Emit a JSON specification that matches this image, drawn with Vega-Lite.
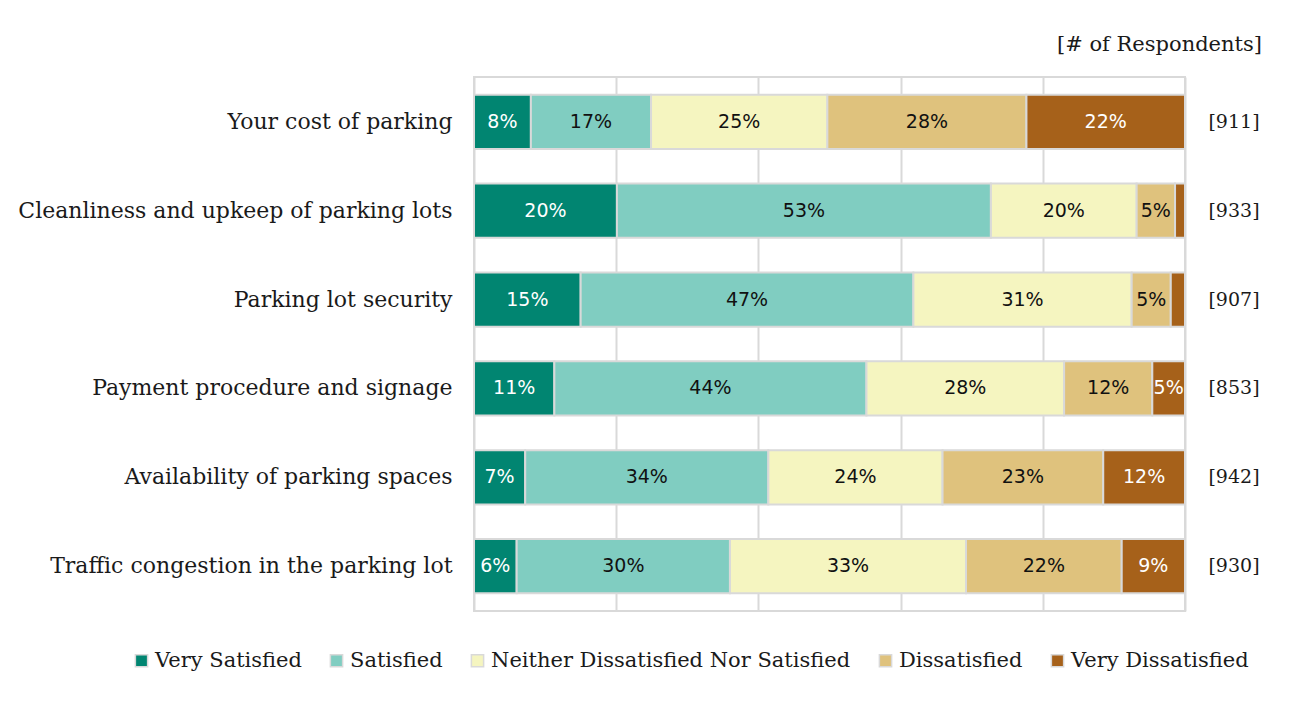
{
  "$schema": "https://vega.github.io/schema/vega-lite/v6.json",
  "width": 711,
  "height": 534,
  "autosize": {"type": "none"},
  "padding": {"left": 474, "top": 77, "right": 106, "bottom": 91},
  "background": "white",
  "title": {
    "text": "[# of Respondents]",
    "anchor": "end",
    "frame": "group",
    "dx": 77,
    "offset": 22,
    "fontSize": 21,
    "fontWeight": "normal",
    "font": "DejaVu Serif",
    "color": "#1a1a1a"
  },
  "config": {
    "font": "DejaVu Serif",
    "view": {"stroke": "#D9D9D9", "strokeWidth": 2}
  },
  "datasets": {
    "segs": [
      {"cat": "Your cost of parking", "level": "Very Satisfied", "k": 1, "pct": 8.0, "label": "8%"},
      {"cat": "Your cost of parking", "level": "Satisfied", "k": 2, "pct": 16.9, "label": "17%"},
      {"cat": "Your cost of parking", "level": "Neither Dissatisfied Nor Satisfied", "k": 3, "pct": 24.8, "label": "25%"},
      {"cat": "Your cost of parking", "level": "Dissatisfied", "k": 4, "pct": 28.0, "label": "28%"},
      {"cat": "Your cost of parking", "level": "Very Dissatisfied", "k": 5, "pct": 22.3, "label": "22%"},
      {"cat": "Cleanliness and upkeep of parking lots", "level": "Very Satisfied", "k": 1, "pct": 20.1, "label": "20%"},
      {"cat": "Cleanliness and upkeep of parking lots", "level": "Satisfied", "k": 2, "pct": 52.6, "label": "53%"},
      {"cat": "Cleanliness and upkeep of parking lots", "level": "Neither Dissatisfied Nor Satisfied", "k": 3, "pct": 20.5, "label": "20%"},
      {"cat": "Cleanliness and upkeep of parking lots", "level": "Dissatisfied", "k": 4, "pct": 5.4, "label": "5%"},
      {"cat": "Cleanliness and upkeep of parking lots", "level": "Very Dissatisfied", "k": 5, "pct": 1.4, "label": ""},
      {"cat": "Parking lot security", "level": "Very Satisfied", "k": 1, "pct": 15.0, "label": "15%"},
      {"cat": "Parking lot security", "level": "Satisfied", "k": 2, "pct": 46.8, "label": "47%"},
      {"cat": "Parking lot security", "level": "Neither Dissatisfied Nor Satisfied", "k": 3, "pct": 30.7, "label": "31%"},
      {"cat": "Parking lot security", "level": "Dissatisfied", "k": 4, "pct": 5.5, "label": "5%"},
      {"cat": "Parking lot security", "level": "Very Dissatisfied", "k": 5, "pct": 2.0, "label": ""},
      {"cat": "Payment procedure and signage", "level": "Very Satisfied", "k": 1, "pct": 11.3, "label": "11%"},
      {"cat": "Payment procedure and signage", "level": "Satisfied", "k": 2, "pct": 43.9, "label": "44%"},
      {"cat": "Payment procedure and signage", "level": "Neither Dissatisfied Nor Satisfied", "k": 3, "pct": 27.8, "label": "28%"},
      {"cat": "Payment procedure and signage", "level": "Dissatisfied", "k": 4, "pct": 12.4, "label": "12%"},
      {"cat": "Payment procedure and signage", "level": "Very Dissatisfied", "k": 5, "pct": 4.6, "label": "5%"},
      {"cat": "Availability of parking spaces", "level": "Very Satisfied", "k": 1, "pct": 7.2, "label": "7%"},
      {"cat": "Availability of parking spaces", "level": "Satisfied", "k": 2, "pct": 34.2, "label": "34%"},
      {"cat": "Availability of parking spaces", "level": "Neither Dissatisfied Nor Satisfied", "k": 3, "pct": 24.5, "label": "24%"},
      {"cat": "Availability of parking spaces", "level": "Dissatisfied", "k": 4, "pct": 22.6, "label": "23%"},
      {"cat": "Availability of parking spaces", "level": "Very Dissatisfied", "k": 5, "pct": 11.5, "label": "12%"},
      {"cat": "Traffic congestion in the parking lot", "level": "Very Satisfied", "k": 1, "pct": 6.0, "label": "6%"},
      {"cat": "Traffic congestion in the parking lot", "level": "Satisfied", "k": 2, "pct": 30.0, "label": "30%"},
      {"cat": "Traffic congestion in the parking lot", "level": "Neither Dissatisfied Nor Satisfied", "k": 3, "pct": 33.2, "label": "33%"},
      {"cat": "Traffic congestion in the parking lot", "level": "Dissatisfied", "k": 4, "pct": 21.9, "label": "22%"},
      {"cat": "Traffic congestion in the parking lot", "level": "Very Dissatisfied", "k": 5, "pct": 8.9, "label": "9%"}
    ],
    "resp": [
      {"cat": "Your cost of parking", "n": "[911]"},
      {"cat": "Cleanliness and upkeep of parking lots", "n": "[933]"},
      {"cat": "Parking lot security", "n": "[907]"},
      {"cat": "Payment procedure and signage", "n": "[853]"},
      {"cat": "Availability of parking spaces", "n": "[942]"},
      {"cat": "Traffic congestion in the parking lot", "n": "[930]"}
    ]
  },
  "layer": [
    {
      "data": {"name": "segs"},
      "transform": [
        {"stack": "pct", "groupby": ["cat"], "sort": [{"field": "k"}], "offset": "normalize", "as": ["x0", "x1"]}
      ],
      "mark": {"type": "bar", "stroke": "#D9D9D9", "strokeWidth": 2},
      "encoding": {
        "y": {
          "field": "cat", "type": "nominal",
          "sort": ["Your cost of parking", "Cleanliness and upkeep of parking lots", "Parking lot security", "Payment procedure and signage", "Availability of parking spaces", "Traffic congestion in the parking lot"],
          "scale": {"paddingInner": 0.39, "paddingOuter": 0.2},
          "axis": {"title": null, "ticks": false, "domain": false, "labelPadding": 22, "labelFontSize": 22, "labelColor": "#1a1a1a", "labelFont": "DejaVu Serif", "labelLimit": 500}
        },
        "x": {
          "field": "x0", "type": "quantitative",
          "scale": {"domain": [0, 1], "nice": false},
          "axis": {"title": null, "labels": false, "ticks": false, "domain": false, "grid": true, "gridColor": "#D9D9D9", "gridWidth": 2, "values": [0, 0.2, 0.4, 0.6, 0.8, 1]}
        },
        "x2": {"field": "x1"},
        "color": {
          "field": "level", "type": "nominal",
          "scale": {
            "domain": ["Very Satisfied", "Satisfied", "Neither Dissatisfied Nor Satisfied", "Dissatisfied", "Very Dissatisfied"],
            "range": ["#018571", "#80CDC1", "#F5F5C0", "#DFC27D", "#A6611A"]
          },
          "legend": {
            "title": null,
            "orient": "none",
            "direction": "horizontal",
            "legendX": -343,
            "legendY": 573,
            "symbolType": "square",
            "symbolSize": 150,
            "symbolStrokeColor": "#D9D9D9",
            "symbolStrokeWidth": 1.5,
            "labelFontSize": 21,
            "labelFont": "DejaVu Serif",
            "labelColor": "#1a1a1a",
            "labelLimit": 500,
            "labelOffset": 3,
            "columnPadding": 24
          }
        }
      }
    },
    {
      "data": {"name": "segs"},
      "transform": [
        {"stack": "pct", "groupby": ["cat"], "sort": [{"field": "k"}], "offset": "normalize", "as": ["x0", "x1"]},
        {"calculate": "(datum.x0 + datum.x1) / 2", "as": "mid"}
      ],
      "mark": {"type": "text", "fontSize": 19, "font": "DejaVu Sans", "baseline": "middle", "align": "center"},
      "encoding": {
        "y": {"field": "cat", "type": "nominal", "sort": ["Your cost of parking", "Cleanliness and upkeep of parking lots", "Parking lot security", "Payment procedure and signage", "Availability of parking spaces", "Traffic congestion in the parking lot"]},
        "x": {"field": "mid", "type": "quantitative"},
        "text": {"field": "label"},
        "color": {
          "condition": {"test": "datum.k === 1 || datum.k === 5", "value": "white"},
          "value": "#111111"
        }
      }
    },
    {
      "data": {"name": "resp"},
      "mark": {"type": "text", "fontSize": 19, "font": "DejaVu Serif", "align": "center", "baseline": "middle", "dx": 49, "color": "#1a1a1a"},
      "encoding": {
        "y": {"field": "cat", "type": "nominal", "sort": ["Your cost of parking", "Cleanliness and upkeep of parking lots", "Parking lot security", "Payment procedure and signage", "Availability of parking spaces", "Traffic congestion in the parking lot"]},
        "x": {"datum": 1, "type": "quantitative"},
        "text": {"field": "n"}
      }
    }
  ]
}
